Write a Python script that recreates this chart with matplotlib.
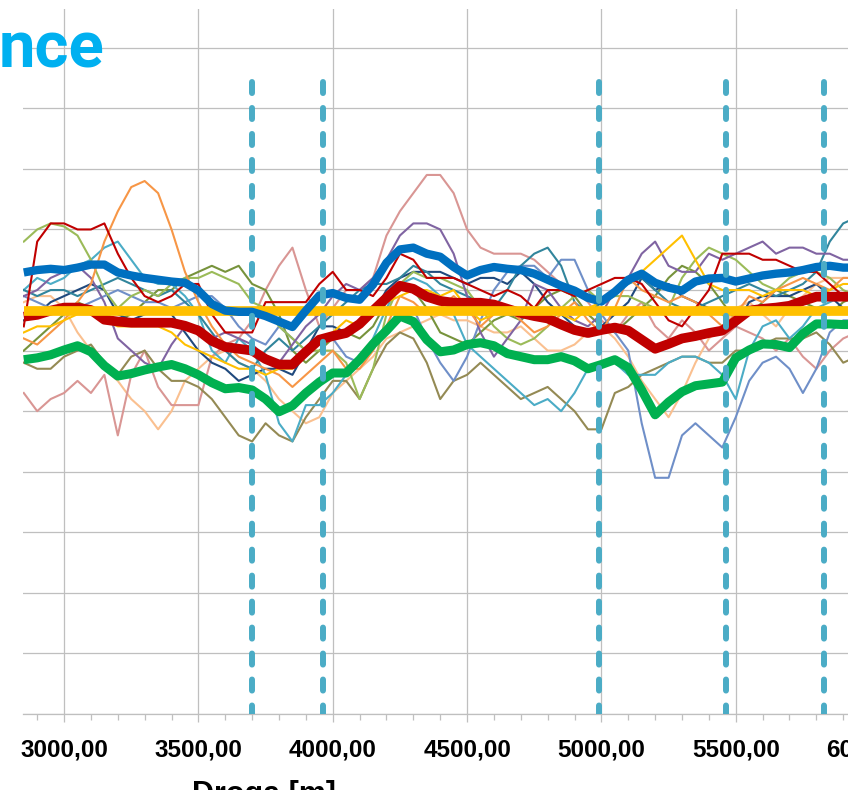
import numpy as np
import matplotlib
matplotlib.use("Agg")
import matplotlib.pyplot as plt
from matplotlib.patches import Rectangle
from matplotlib.ticker import MultipleLocator, FuncFormatter

plt.rcParams['font.family'] = ['Liberation Sans', 'DejaVu Sans']
plt.rcParams['font.weight'] = 'bold'

# ---------------- data ----------------
dist = np.arange(2850, 5951, 50)   # distance [m], 63 points

blue_main = [72.9, 73.3, 73.5, 73.3, 73.7, 74.2, 74.2, 72.9, 72.4, 72.0,
             71.7, 71.4, 71.2, 69.9, 67.7, 66.6, 66.4, 66.4, 65.7, 64.8,
             63.9, 66.6, 69.1, 69.5, 68.7, 68.4, 70.9, 74.5, 76.7, 77.0,
             76.0, 75.5, 73.8, 72.4, 73.3, 73.8, 73.5, 73.3, 72.7, 71.7,
             70.7, 69.9, 68.7, 68.1, 69.7, 71.7, 72.7, 71.2, 70.4, 69.9,
             71.4, 71.9, 72.0, 71.4, 71.9, 72.4, 72.7, 72.9, 73.3, 73.8,
             74.0, 73.7, 73.7]
red_main = [65.6, 65.9, 66.6, 67.1, 67.1, 66.7, 65.1, 64.8, 64.6, 64.6,
            64.6, 64.6, 64.1, 63.3, 61.6, 60.6, 60.3, 60.0, 58.6, 57.7,
            57.7, 59.8, 61.8, 62.4, 62.9, 64.4, 66.6, 68.7, 70.7, 70.2,
            68.9, 68.2, 67.9, 67.9, 67.9, 67.6, 66.9, 66.2, 65.7, 65.3,
            64.3, 63.4, 62.9, 63.4, 63.8, 63.3, 61.8, 60.3, 61.1, 62.0,
            62.4, 62.9, 63.3, 64.9, 66.6, 66.9, 67.1, 67.4, 68.2, 68.9,
            68.9, 68.9, 68.9]
green_main = [58.5, 58.8, 59.3, 60.1, 60.8, 59.8, 57.5, 55.8, 56.2, 56.8,
              57.3, 57.7, 57.0, 56.0, 54.7, 53.7, 53.9, 53.5, 52.0, 49.9,
              50.9, 53.0, 54.8, 56.3, 56.3, 58.5, 61.1, 63.3, 65.7, 64.8,
              61.8, 59.8, 60.1, 61.0, 61.3, 60.8, 59.5, 59.0, 58.5, 58.5,
              59.0, 58.3, 57.0, 57.7, 58.5, 57.2, 53.5, 49.4, 51.5, 53.2,
              54.2, 54.5, 54.8, 58.8, 60.1, 61.1, 61.0, 60.5, 62.8, 64.4,
              64.4, 64.3, 64.3]
ref_x = [2850, 5950]
ref_level = [66.6, 66.6]

thin_orange = [62, 61, 63, 65, 68, 71, 78, 83, 87, 88,
               86, 80, 73, 68, 64, 61, 59, 58, 57, 56,
               54, 56, 58, 60, 57, 57, 60, 64, 69, 68,
               66, 67, 69, 67, 64, 66, 67, 65, 63, 64,
               66, 68, 65, 63, 67, 72, 70, 69, 68, 69,
               68, 66, 64, 66, 69, 68, 70, 71, 72, 71,
               70, 72, 72]
thin_pink = [53, 50, 52, 53, 55, 53, 56, 46, 56, 60,
             54, 51, 51, 51, 59, 61, 62, 65, 70, 74,
             77, 70, 64, 67, 70, 70, 72, 79, 83, 86,
             89, 89, 86, 80, 77, 76, 76, 76, 75, 73,
             71, 70, 68, 65, 63, 66, 68, 64, 62, 65,
             63, 60, 62, 64, 63, 62, 60, 62, 59, 57,
             60, 62, 63]
thin_red = [64, 78, 81, 81, 80, 80, 81, 76, 72, 69,
            68, 69, 71, 71, 66, 63, 63, 63, 68, 68,
            68, 68, 71, 73, 70, 70, 69, 72, 76, 75,
            72, 72, 72, 71, 70, 69, 70, 69, 67, 70,
            70, 69, 70, 71, 72, 72, 71, 68, 65, 64,
            67, 70, 76, 76, 76, 75, 75, 74, 73, 73,
            71, 69, 70]
thin_olive = [78, 80, 81, 80.5, 79, 75, 70, 67, 69, 70,
              69, 71, 72, 72, 73, 72, 71, 68, 67, 64,
              62, 60, 60, 60, 58, 52, 57, 66, 71, 73,
              72, 72, 71, 70, 67, 64, 62, 61, 62, 64,
              67, 69, 70, 68, 69, 69, 68, 67, 67, 72,
              75, 77, 76, 75, 73, 71, 70, 72, 73, 73,
              72, 70, 69]
thin_purple = [69, 70, 72, 73, 74, 72, 68, 62, 60, 58,
               57, 61, 64, 64, 62, 63, 62, 61, 59, 58,
               61, 64, 66, 69, 71, 70, 72, 75, 79, 81,
               81, 80, 76, 69, 63, 59, 62, 65, 71, 70,
               67, 65, 64, 66, 70, 72, 76, 78, 74, 73,
               73, 76, 75, 76, 77, 78, 76, 77, 77, 76,
               76, 75, 75]
thin_cyan = [70, 72, 71, 72, 74, 75, 77, 78, 75, 72,
             71, 71, 69, 66, 60, 58, 62, 60, 56, 48,
             45, 51, 51, 53, 56, 58, 62, 67, 71, 72,
             71, 69, 66, 61, 59, 57, 55, 53, 51, 52,
             50, 53, 57, 58, 58, 56, 56, 56, 58, 59,
             59, 58, 56, 52, 60, 64, 65, 62, 64, 67,
             68, 69, 69]
thin_peach = [68, 69, 69, 67, 63, 60, 57, 55, 52, 50,
              47, 50, 55, 57, 59, 60, 58, 57, 55, 52,
              50, 48, 49, 53, 55, 57, 59, 62, 63, 64,
              65, 66, 65, 65, 64, 63, 63, 64, 62, 60,
              60, 61, 63, 64, 62, 59, 55, 52, 49, 53,
              58, 62, 64, 67, 68, 66, 64, 67, 69, 71,
              72, 72, 72]
thin_khaki = [58, 57, 57, 59, 60, 61, 58, 56, 59, 60,
              57, 55, 55, 54, 52, 49, 46, 45, 48, 46,
              45, 49, 52, 55, 55, 52, 57, 61, 63, 62,
              58, 52, 55, 56, 58, 56, 54, 52, 53, 54,
              52, 50, 47, 47, 53, 54, 56, 57, 58, 59,
              59, 58, 58, 60, 60, 61, 62, 62, 62, 63,
              61, 58, 59]
thin_navy = [65, 66, 68, 69, 70, 71, 70, 66, 65, 66,
             67, 66, 63, 60, 58, 57, 55, 56, 57, 57,
             56, 60, 64, 64, 63, 65, 66, 70, 72, 73,
             73, 73, 72, 71, 72, 72, 71, 73, 71, 68,
             66, 64, 63, 64, 66, 68, 72, 70, 71, 69,
             68, 67, 66, 64, 68, 69, 69, 69, 70, 71,
             69, 67, 67]
thin_steel = [69, 68, 67, 66, 67, 68, 69, 70, 69, 68,
              68, 67, 68, 69, 69, 67, 64, 62, 61, 64,
              62, 60, 62, 62, 59, 58, 61, 64, 66, 67,
              62, 58, 55, 59, 65, 70, 73, 74, 74, 72,
              75, 75, 70, 66, 63, 60, 48, 39, 39, 46,
              48, 46, 44, 49, 55, 58, 59, 57, 53, 57,
              63, 65, 65]
thin_yellow = [63, 64, 64, 65, 66, 66, 65, 64, 64, 64,
               64, 63, 61, 60, 59, 58, 57, 57, 56, 57,
               57, 60, 62, 63, 65, 64, 66, 68, 69, 70,
               70, 69, 70, 67, 65, 66, 67, 66, 66, 67,
               66, 65, 67, 68, 70, 72, 73, 75, 77, 79,
               75, 71, 70, 70, 70, 69, 70, 70, 70, 69,
               70, 71, 71]
thin_teal = [70, 69, 70, 70, 69, 70, 71, 72, 71, 70,
             69, 70, 68, 66, 63, 60, 58, 57, 60, 62,
             60, 62, 64, 66, 68, 70, 71, 71, 72, 74,
             73, 71, 70, 69, 68, 67, 70, 74, 76, 77,
             74, 68, 66, 68, 70, 71, 72, 70, 68, 67,
             67, 68, 69, 70, 71, 70, 69, 70, 71, 73,
             78, 81, 82]
thin_green = [60, 62, 64, 66, 68, 67, 66, 65, 66, 68,
              70, 70, 72, 73, 74, 73, 74, 71, 70, 66,
              60, 58, 60, 62, 63, 62, 64, 68, 71, 70,
              67, 63, 62, 61, 63, 65, 66, 65, 67, 69,
              70, 69, 66, 64, 63, 65, 67, 69, 72, 74,
              73, 71, 68, 65, 66, 68, 70, 69, 68, 67,
              66, 68, 69]

thin_series = [
    (thin_peach, '#FAC090'), (thin_pink, '#D99694'), (thin_khaki, '#948A54'),
    (thin_green, '#77933C'), (thin_navy, '#1F497D'), (thin_steel, '#6F8FC8'),
    (thin_cyan, '#4BACC6'), (thin_teal, '#31859C'), (thin_olive, '#9BBB59'),
    (thin_purple, '#8064A2'), (thin_orange, '#F79646'), (thin_yellow, '#FFC000'),
    (thin_red, '#C00000'),
]

marker_x = [3700, 3965, 4990, 5463, 5828]
marker_span = [104.4, 0]

x_major = [3000, 3500, 4000, 4500, 5000, 5500, 6000]
y_grid = [0, 10, 20, 30, 40, 50, 60, 70, 80, 90, 100, 110]

# ---------------- figure ----------------
W, H = 859, 790
fig = plt.figure(figsize=(W / 100, H / 100), dpi=100)


def fx(px):
    return px / W


def fy(py):
    return 1 - py / H


ax = fig.add_axes([fx(22.7), fy(714), fx(883.5) - fx(22.7), fy(9) - fy(714)])
ax.set_xlim(2846, 6050)
ax.set_ylim(0, 116.4)

for vals, col in thin_series:
    ax.plot(dist, vals, color=col, lw=1.5, zorder=2, solid_joinstyle='round')

ax.plot(dist, green_main, color='#00B050', lw=6.5, zorder=3, solid_capstyle='butt')
ax.plot(dist, red_main, color='#C00000', lw=7, zorder=4, solid_capstyle='butt')
ax.plot(ref_x, ref_level, color='#FFC000', lw=7, zorder=5, solid_capstyle='butt')
ax.plot(dist, blue_main, color='#0070C0', lw=6, zorder=6, solid_capstyle='butt')

for xm in marker_x:
    ax.plot([xm, xm], marker_span, color='#4BACC6', lw=4.3, zorder=7,
            linestyle=(0, (1.85, 2.5)), dash_capstyle='round')

# axes styling
ax.set_xticks(x_major)
ax.xaxis.set_minor_locator(MultipleLocator(100))
ax.xaxis.set_major_formatter(FuncFormatter(lambda v, p: f"{v:.2f}".replace('.', ',')))
ax.set_yticks(y_grid)
ax.tick_params(axis='y', length=0, labelleft=False)
ax.tick_params(axis='x', which='major', direction='out', length=5.8, width=0.9,
               color='#BFBFBF', labelsize=17.5, pad=12, labelcolor='#000000')
ax.tick_params(axis='x', which='minor', direction='out', length=4.3, width=0.9,
               color='#BFBFBF')
ax.grid(True, which='major', color='#BFBFBF', lw=0.9, zorder=0)
ax.set_axisbelow(True)
for s in ['left', 'right', 'top']:
    ax.spines[s].set_visible(False)
ax.spines['bottom'].set_color('#BFBFBF')
ax.spines['bottom'].set_linewidth(0.9)

# texts
fig.text(fx(263.5), fy(780), 'Droga [m]', ha='center', va='top', fontsize=22,
         weight='bold', color='#000000')
fig.text(fx(-1), fy(67), 'nce', ha='left', va='baseline', fontsize=47,
         weight='bold', color='#00B0F0', family=['Roboto', 'DejaVu Sans'], zorder=60)

# crop strip on the right
fig.add_artist(Rectangle((fx(848), 0), 1, 1, transform=fig.transFigure,
                         facecolor='white', edgecolor='none', zorder=50))

fig.savefig('out.png', dpi=100)
